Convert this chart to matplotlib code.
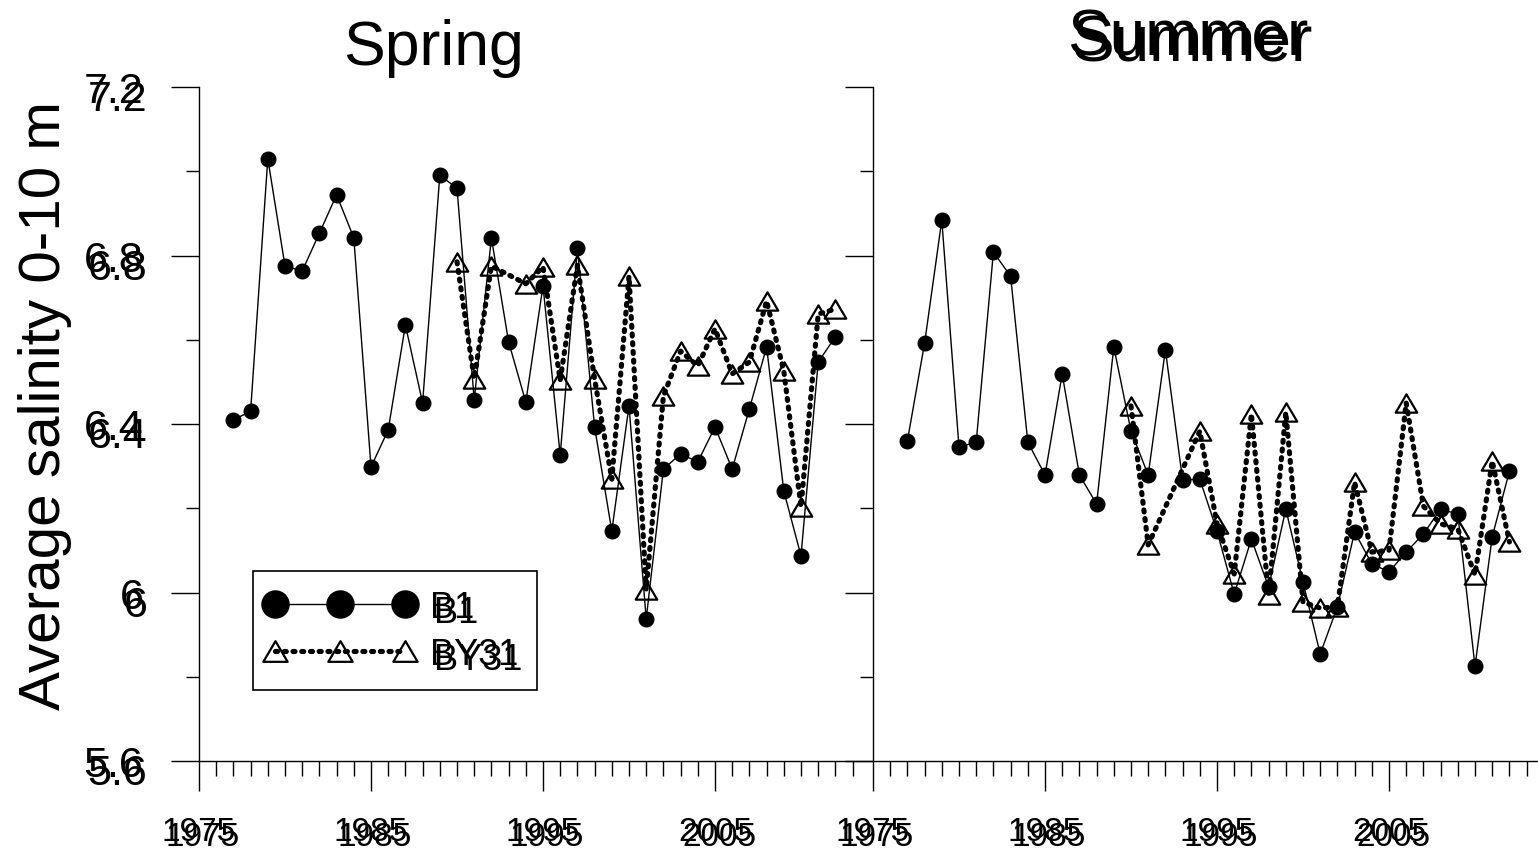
import matplotlib
matplotlib.use('Agg')
import matplotlib.pyplot as plt
from matplotlib.lines import Line2D
from matplotlib.path import Path
from matplotlib.transforms import offset_copy, blended_transform_factory
from matplotlib.legend_handler import HandlerLine2D

plt.rcParams['font.family'] = ['Liberation Sans', 'DejaVu Sans']

# ---------------- data ----------------
years_b1 = list(range(1977, 2013))
years_by31 = [1990, 1991, 1992] + list(range(1994, 2013))
years_by31_summer = [1990, 1991] + list(range(1994, 2013))

spring_b1 = [6.41, 6.43, 7.03, 6.775, 6.763, 6.853, 6.944, 6.842, 6.298, 6.386,
             6.635, 6.45, 6.99, 6.96, 6.457, 6.842, 6.595, 6.452, 6.728, 6.326,
             6.818, 6.393, 6.146, 6.443, 5.937, 6.293, 6.329, 6.31, 6.393, 6.293,
             6.436, 6.583, 6.241, 6.087, 6.547, 6.607]
spring_by31 = [6.785, 6.507, 6.775,
               6.733, 6.773, 6.504, 6.777, 6.507, 6.269, 6.751, 6.006, 6.466, 6.573,
               6.538, 6.626, 6.519, 6.547, 6.692, 6.526, 6.203, 6.661, 6.673]
summer_b1 = [6.36, 6.592, 6.884, 6.345, 6.357, 6.808, 6.751, 6.357, 6.279, 6.519,
             6.279, 6.21, 6.583, 6.383, 6.279, 6.576, 6.267, 6.269, 6.146, 5.996,
             6.127, 6.013, 6.198, 6.025, 5.854, 5.966, 6.144, 6.068, 6.049, 6.096,
             6.139, 6.198, 6.186, 5.825, 6.132, 6.288]
summer_by31 = [6.443, 6.113,
               6.383, 6.163, 6.044, 6.424, 5.994, 6.428, 5.977, 5.963, 5.966, 6.262,
               6.096, 6.1, 6.45, 6.205, 6.163, 6.151, 6.042, 6.312, 6.12]

yticks = [5.6, 6.0, 6.4, 6.8, 7.2]
ytick_labels = ['5.6', '6', '6.4', '6.8', '7.2']
yminor = [5.8, 6.2, 6.6, 7.0]
xticks = [1975, 1985, 1995, 2005]
xtick_labels = ['1975', '1985', '1995', '2005']
xminor = list(range(1976, 2014))
series_names = ['B1', 'BY31']
titles = ['Spring', 'Summer']
ylabel = 'Average salinity 0-10 m'

# ---------------- style ----------------
W, H = 1538, 854
fig = plt.figure(figsize=(W / 100, H / 100), dpi=100)
ax1 = fig.add_axes([199 / W, 92 / H, 673 / W, 674 / H])
ax2 = fig.add_axes([873 / W, 92 / H, 665 / W, 674 / H])

tri = Path([(0, 0.85), (-1, -0.85), (1, -0.85), (0, 0.85)],
           [Path.MOVETO, Path.LINETO, Path.LINETO, Path.CLOSEPOLY])
dot_ls = (0, (0.4, 1.3))

b1_style = dict(color='k', lw=1.0, marker='o', ms=10.5, mfc='k', mec='k', mew=1)
by_style = dict(color='k', lw=3.7, ls=dot_ls, dash_capstyle='round',
                marker=tri, ms=15.5, mfc='none', mec='k', mew=1.6)

ax1.plot(years_by31, spring_by31, zorder=2, clip_on=False, **by_style)
ax1.plot(years_b1, spring_b1, zorder=3, clip_on=False, **b1_style)
ax2.plot(years_by31_summer, summer_by31, zorder=2, clip_on=False, **by_style)
ax2.plot(years_b1, summer_b1, zorder=3, clip_on=False, **b1_style)

ax1.set_xlim(1975, 1975 + 673 / 17.2)
ax2.set_xlim(1975, 1975 + 665 / 17.2)

DX, DY = 4, -5  # pixel offset of the doubled text copy
XFS, YFS = 24, 31
XLEN, XPAD = 21.5, 18
YLEN, YPAD = 20, 20

for ax in [ax1, ax2]:
    ax.set_ylim(5.6, 7.2)
    for s in ['top', 'right']:
        ax.spines[s].set_visible(False)
    for s in ['left', 'bottom']:
        ax.spines[s].set_linewidth(1.0)
    ax.set_yticks(yticks)
    ax.set_yticks(yminor, minor=True)
    ax.set_xticks(xticks)
    ax.set_xticks(xminor, minor=True)
    ax.set_xticklabels(xtick_labels, fontsize=XFS)
    ax.tick_params(axis='y', which='major', length=YLEN, width=1, direction='out', pad=YPAD)
    ax.tick_params(axis='y', which='minor', length=9.5, width=1, direction='out')
    ax.tick_params(axis='x', which='major', length=XLEN, width=1, direction='out', pad=XPAD)
    ax.tick_params(axis='x', which='minor', length=11, width=1, direction='out')
    # doubled copy of x tick labels
    tx = blended_transform_factory(ax.transData, ax.transAxes)
    for xv, lab in zip(xticks, xtick_labels):
        tr = offset_copy(tx, fig=fig, x=DX, y=-(XLEN + XPAD) * 100 / 72 + DY, units='dots')
        ax.text(xv, 0, lab, transform=tr, ha='center', va='top', fontsize=XFS)

ax1.set_yticklabels(ytick_labels, fontsize=YFS)
ax2.set_yticklabels([])
ty = blended_transform_factory(ax1.transAxes, ax1.transData)
for yv, lab in zip(yticks, ytick_labels):
    tr = offset_copy(ty, fig=fig, x=-(YLEN + YPAD) * 100 / 72 + DX, y=DY - 3, units='dots')
    ax1.text(0, yv, lab, transform=tr, ha='right', va='center_baseline', fontsize=YFS)

# titles
fig.text(434 / W, 1 - 65 / H, titles[0], ha='center', va='baseline', fontsize=45)
fig.text(1188 / W, 1 - 56 / H, titles[1], ha='center', va='baseline', fontsize=46)
fig.text((1188 + DX) / W, 1 - (56 - DY) / H, titles[1], ha='center', va='baseline', fontsize=46)

fig.text(45 / W, 1 - 405 / H, ylabel, rotation=90, ha='center', va='center', fontsize=42)

# legend
h1 = Line2D([], [], color='k', lw=1.0, marker='o', ms=19.5, mfc='k', mec='k')
h2 = Line2D([], [], color='k', lw=3.7, ls=dot_ls, dash_capstyle='round',
            marker=tri, ms=17.5, mfc='none', mec='k', mew=1.6)
leg_kw = dict(loc='upper left', bbox_transform=fig.transFigure, fancybox=False,
              shadow=False, fontsize=26, numpoints=3, handlelength=3.77,
              handletextpad=0.62, borderpad=0.52, labelspacing=0.33, borderaxespad=0,
              handler_map={Line2D: HandlerLine2D(marker_pad=0.09, numpoints=3)})
leg1 = ax1.legend([h1, h2], series_names, bbox_to_anchor=(253 / W, 1 - 572 / H),
                  frameon=True, edgecolor='k', framealpha=1, **leg_kw)
leg1.get_frame().set_linewidth(1.2)
ax1.add_artist(leg1)
e1 = Line2D([], [], ls='none')
e2 = Line2D([], [], ls='none')
leg2 = ax1.legend([e1, e2], series_names,
                  bbox_to_anchor=((253 + DX) / W, 1 - (572 - DY) / H),
                  frameon=False, **leg_kw)

fig.savefig('out.png', dpi=100)
